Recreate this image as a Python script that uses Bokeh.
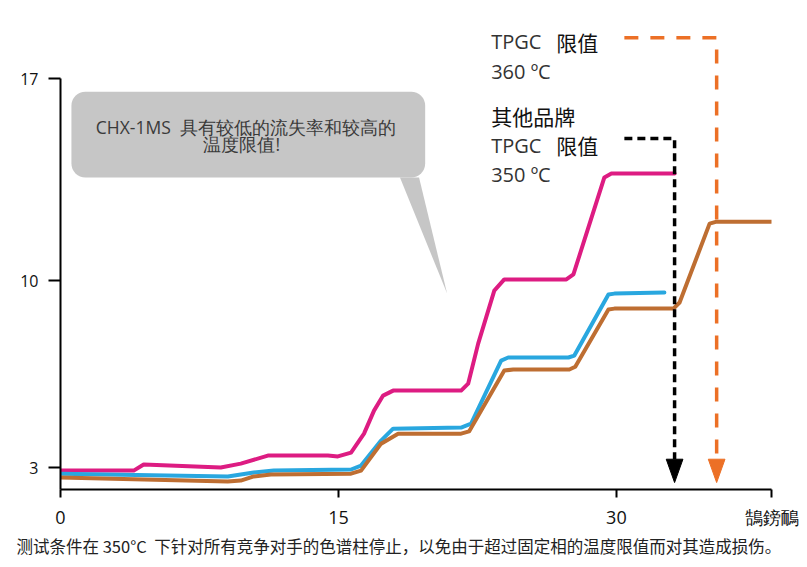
from bokeh.plotting import figure
from bokeh.models import Range1d, FixedTicker, Title, BoxAnnotation
from bokeh.core.properties import value
from bokeh.embed import file_html
from bokeh.resources import INLINE

# ---------------- data ----------------
PINK_T = [0, 3.95, 4.49, 8.65, 9.73, 11.19, 14.43, 14.97, 15.68, 16.38, 16.92, 17.41, 17.95,
          21.62, 22.0, 22.54, 23.41, 23.95, 27.30, 27.68, 29.35, 29.73, 33.14]
PINK_V = [2.89, 2.89, 3.11, 3.00, 3.14, 3.43, 3.43, 3.40, 3.54, 4.22, 5.05, 5.59, 5.77,
          5.77, 6.02, 7.46, 9.37, 9.77, 9.77, 9.95, 13.44, 13.58, 13.58]

BLUE_T = [0, 9.03, 10.43, 11.51, 15.68, 16.22, 17.30, 17.95, 21.62, 22.16, 23.78, 24.16,
          27.41, 27.73, 29.57, 29.89, 32.59]
BLUE_V = [2.78, 2.68, 2.82, 2.89, 2.93, 3.07, 3.97, 4.40, 4.44, 4.58, 6.85, 6.96,
          6.96, 7.03, 9.23, 9.26, 9.30]

BROWN_T = [0, 9.03, 9.73, 10.43, 11.35, 15.68, 16.22, 17.30, 18.22, 21.62, 22.05, 23.95, 24.43,
           27.46, 27.78, 29.57, 29.89, 33.08, 33.41, 35.03, 35.41, 38.37]
BROWN_V = [2.64, 2.50, 2.53, 2.68, 2.75, 2.78, 2.89, 3.86, 4.22, 4.22, 4.30, 6.49, 6.53,
           6.53, 6.63, 8.69, 8.72, 8.72, 8.94, 11.78, 11.85, 11.85]

X_TICKS = [0, 15, 30, 38.37]
X_TICK_LABELS = ["0", "15", "30", "鵠鎊鴯"]
Y_TICKS = [3.0, 9.73, 17.0]
Y_TICK_LABELS = ["3", "10", "17"]

# limit markers (x position of the drop, y level of the horizontal leg)
LIMIT_START_X = 30.43
BLACK_X, BLACK_Y = 33.14, 14.84
ORANGE_X, ORANGE_Y = 35.41, 18.47
ARROW_TIP_Y = 2.46
ARROW_BASE_Y = 3.30
ARROW_HALF_W = 0.45

# speech bubble
BUBBLE = dict(left=0.59, right=19.68, top=16.53, bottom=13.44)
TAIL_X = [18.32, 19.35, 20.86]
TAIL_Y = [13.44, 13.44, 9.27]

PINK = "#DD1C82"
BLUE = "#29A7DF"
BROWN = "#BE6E32"
ORANGE = "#EC7026"

p = figure(width=800, height=560,
           x_range=Range1d(0, 38.37), y_range=Range1d(2.21, 19.09),
           output_backend="svg", toolbar_location=None,
           min_border_left=60, min_border_right=29, min_border_top=20, min_border_bottom=71)
p.outline_line_color = None
p.grid.grid_line_color = None
p.background_fill_color = "white"

# axes
p.xaxis.ticker = FixedTicker(ticks=X_TICKS)
p.xaxis.major_label_overrides = {t: l for t, l in zip(X_TICKS, X_TICK_LABELS)}
p.yaxis.ticker = FixedTicker(ticks=Y_TICKS)
p.yaxis.major_label_overrides = {t: l for t, l in zip(Y_TICKS, Y_TICK_LABELS)}
p.yaxis.bounds = (2.21, 17.0)
for ax in (p.xaxis, p.yaxis):
    ax.axis_line_width = 2
    ax.axis_line_color = "black"
    ax.major_tick_line_width = 2
    ax.major_tick_line_color = "black"
    ax.minor_tick_line_color = None
    ax.major_tick_in = 0
    ax.major_label_text_font = "Open Sans"
    ax.major_label_text_color = "#111111"
p.xaxis.major_tick_out = 8
p.xaxis.major_label_standoff = 7
p.xaxis.major_label_text_font_size = "18px"
p.yaxis.major_tick_out = 12
p.yaxis.major_label_standoff = 10
p.yaxis.major_label_text_font_size = "16px"

# speech bubble
p.add_layout(BoxAnnotation(fill_color="#C6C6C6", fill_alpha=1, line_color=None,
                           border_radius=14, level="underlay", **BUBBLE))
p.patch(TAIL_X, TAIL_Y, fill_color="#C6C6C6", line_color=None)
p.text(x=[10.0], y=[15.24], text=["CHX-1MS\u00a0\u00a0具有较低的流失率和较高的"],
       text_font=value("Open Sans"), text_font_size=value("17.5px"),
       text_color="#3a3a3a", text_align="center", text_baseline="middle")
p.text(x=[9.78], y=[14.66], text=["温度限值!"],
       text_font=value("Open Sans"), text_font_size=value("17.5px"),
       text_color="#3a3a3a", text_align="center", text_baseline="middle")

# curves
lw = 4
p.line(PINK_T, PINK_V, line_color=PINK, line_width=lw, line_join="round", line_cap="round")
p.line(BLUE_T, BLUE_V, line_color=BLUE, line_width=lw, line_join="round", line_cap="round")
p.line(BROWN_T, BROWN_V, line_color=BROWN, line_width=lw, line_join="round", line_cap="round")

# dashed limit lines
p.line([LIMIT_START_X, ORANGE_X, ORANGE_X], [ORANGE_Y, ORANGE_Y, ARROW_BASE_Y],
       line_color=ORANGE, line_width=3.5, line_dash="14 12")
p.line([LIMIT_START_X, BLACK_X, BLACK_X], [BLACK_Y, BLACK_Y, ARROW_BASE_Y],
       line_color="black", line_width=3.5, line_dash="8 5")
for xc, col in ((BLACK_X, "black"), (ORANGE_X, ORANGE)):
    p.patch([xc - ARROW_HALF_W, xc + ARROW_HALF_W, xc],
            [ARROW_BASE_Y, ARROW_BASE_Y, ARROW_TIP_Y],
            fill_color=col, line_color=col)

# limit texts
LX, LX2 = 23.24, 26.76
for (yy, txt) in ((18.33, "TPGC"), (14.60, "TPGC")):
    p.text(x=[LX], y=[yy], text=[txt], text_font=value("Open Sans"), text_font_size=value("20px"),
           text_color="#333333", text_baseline="middle")
for yy in (18.33, 14.60):
    p.text(x=[LX2], y=[yy], text=["限值"], text_font=value("Noto Sans CJK SC"),
           text_font_size=value("21px"), text_color="#111111", text_baseline="middle")
p.text(x=[LX], y=[17.25], text=["360 ºC"], text_font=value("Open Sans"), text_font_size=value("20px"),
       text_color="#333333", text_baseline="middle")
p.text(x=[LX], y=[13.53], text=["350 ºC"], text_font=value("Open Sans"), text_font_size=value("20px"),
       text_color="#333333", text_baseline="middle")
p.text(x=[LX], y=[15.67], text=["其他品牌"], text_font=value("Noto Sans CJK SC"),
       text_font_size=value("21px"), text_color="#111111", text_baseline="middle")

# caption
p.add_layout(Title(text="测试条件在 350°C\u00a0\u00a0下针对所有竞争对手的色谱柱停止，以免由于超过固定相的温度限值而对其造成损伤。",
                   align="left", offset=-44, text_font="Noto Sans CJK SC", text_font_size="16.5px",
                   text_font_style="normal", text_color="#222222", standoff=0), "below")

open("out.html", "w").write(file_html(p, INLINE))
